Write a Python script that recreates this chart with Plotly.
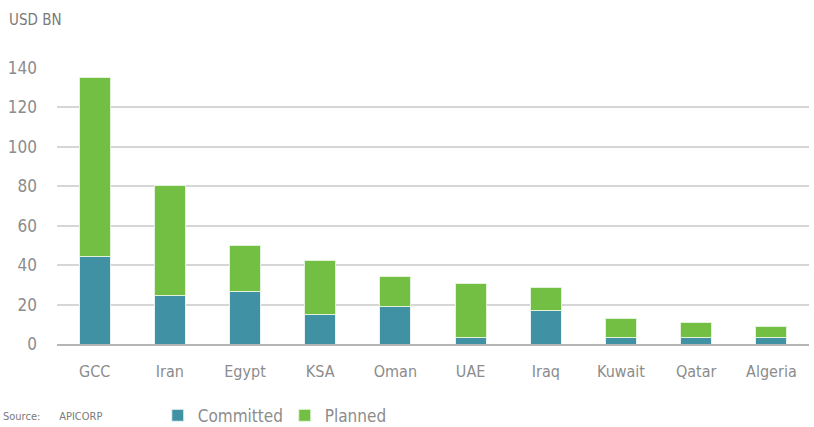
import plotly.graph_objects as go

categories = ["GCC", "Iran", "Egypt", "KSA", "Oman", "UAE", "Iraq", "Kuwait", "Qatar", "Algeria"]
committed = [44.5, 24.5, 26.5, 15.0, 19.0, 3.2, 17.0, 3.2, 3.2, 3.2]
planned = [90.8, 55.9, 23.4, 27.4, 15.0, 27.7, 11.9, 9.7, 7.5, 5.5]
y_ticks = [0, 20, 40, 60, 80, 100, 120, 140]

FONT = "DejaVu Sans Condensed, Roboto"
GRAY = "#8c8c8c"

fig = go.Figure()
fig.add_trace(go.Bar(x=categories, y=committed, name="Committed",
                     marker=dict(color="#4191A5", line=dict(color="#e6f2f4", width=1))))
fig.add_trace(go.Bar(x=categories, y=planned, name="Planned",
                     marker=dict(color="#72BF44", line=dict(color="#e3f3d9", width=1))))

fig.update_layout(
    barmode="stack",
    bargap=0.59,
    width=814, height=427,
    margin=dict(l=57, r=5, t=68, b=83, autoexpand=False),
    paper_bgcolor="white", plot_bgcolor="white",
    font=dict(family=FONT, color=GRAY, size=16),
    showlegend=True,
    legend=dict(orientation="h", x=0.134, y=-0.26, xanchor="left", yanchor="middle",
                font=dict(size=17, color=GRAY, family=FONT), entrywidth=82,
                itemwidth=30, traceorder="normal"),
    xaxis=dict(showgrid=False, showline=True, linecolor="#b5b5b5", linewidth=2,
               ticks="", ticklabelstandoff=12, tickfont=dict(size=16, color=GRAY)),
    yaxis=dict(range=[0, 140], tickvals=y_ticks, showgrid=True, gridcolor="#d6d6d6",
               gridwidth=1.5, zeroline=False, showline=False, ticks="",
               ticklabelstandoff=19, tickfont=dict(size=17, color=GRAY)),
    annotations=[
        dict(text="USD BN", xref="paper", yref="paper", x=-0.066, y=1.174,
             xanchor="left", yanchor="middle", showarrow=False,
             font=dict(size=15, color="#7a7a7a", family=FONT)),
        dict(text="Source:      APICORP", xref="paper", yref="paper", x=-0.075, y=-0.295,
             xanchor="left", yanchor="bottom", showarrow=False,
             font=dict(size=11, color="#7a7a7a", family=FONT)),
    ],
)

fig.write_html("out.html", post_script="document.body.style.margin='0';",
               config={"displayModeBar": False})
